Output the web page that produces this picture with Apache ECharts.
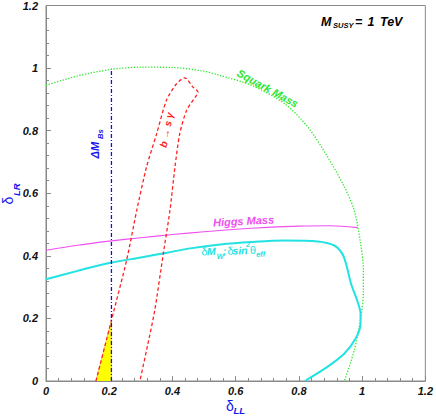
<!DOCTYPE html>
<html>
<head>
<meta charset="utf-8">
<script src="https://cdn.jsdelivr.net/npm/echarts@6/dist/echarts.min.js"></script>
<style>
  html, body { margin: 0; padding: 0; background: #fff; }
  #chart { width: 436px; height: 420px; }
</style>
</head>
<body>
<div id="chart"></div>
<script>
// axis range (delta_LL on x, delta_LR on y)
const axisMin = 0;
const axisMax = 1.2;
const axisStep = 0.2;

// squark mass bound (green dotted)
const squarkMass = [
  [0, 0.945], [0.1, 0.975], [0.2, 0.995], [0.3, 1.003], [0.4, 1.002],
  [0.5, 0.99], [0.545, 0.978], [0.65, 0.945], [0.755, 0.886], [0.828, 0.812],
  [0.891, 0.716], [0.944, 0.62], [0.975, 0.545], [0.995, 0.44], [1.004, 0.354],
  [1.004, 0.29], [0.996, 0.204], [0.975, 0.098], [0.944, 0]
];

// higgs mass bound (magenta)
const higgsMass = [
  [0, 0.418], [0.1, 0.434], [0.2, 0.447], [0.3, 0.458], [0.4, 0.468],
  [0.5, 0.477], [0.6, 0.485], [0.7, 0.491], [0.8, 0.495], [0.9, 0.496], [0.986, 0.49]
];

// dM_W / dsin^2 theta_eff bound (cyan)
const deltaMW = [
  [0, 0.325], [0.1, 0.352], [0.2, 0.377], [0.3, 0.395], [0.383, 0.41],
  [0.45, 0.423], [0.551, 0.436], [0.65, 0.444], [0.755, 0.449], [0.86, 0.446],
  [0.912, 0.433], [0.937, 0.407], [0.949, 0.375], [0.965, 0.311], [0.984, 0.258],
  [0.995, 0.215], [0.995, 0.183], [0.979, 0.135], [0.943, 0.087], [0.89, 0.045], [0.819, 0]
];

// b -> s gamma allowed band (red dashed)
const bsGamma = [
  [0.158, 0], [0.207, 0.194], [0.255, 0.386], [0.287, 0.545], [0.318, 0.684],
  [0.35, 0.79], [0.381, 0.897], [0.413, 0.95], [0.439, 0.969], [0.465, 0.939],
  [0.481, 0.923], [0.476, 0.913], [0.445, 0.865], [0.423, 0.79], [0.408, 0.684],
  [0.392, 0.545], [0.371, 0.407], [0.344, 0.226], [0.318, 0.098], [0.297, 0]
];

// Delta M_Bs bound (blue dash-dot)
const deltaMBs = [[0.207, 0], [0.207, 0.998]];

// region allowed by all constraints (yellow)
const allowedRegion = [[0.158, 0], [0.207, 0.194], [0.207, 0]];

const FONT = '"Liberation Sans", Arial, sans-serif';

// 多段文字（下标/上标）组合
function textGroup(x, y, rot, pieces) {
  return {
    type: 'group',
    x: x,
    y: y,
    rotation: rot,
    children: pieces.map(p => ({
      type: 'text',
      x: p.dx,
      y: p.dy,
      style: {
        text: p.t,
        fill: p.color,
        font: (p.plain ? 'normal normal ' : 'italic bold ') + p.size + 'px ' + FONT,
        textAlign: p.align || 'left',
        textVerticalAlign: 'middle'
      }
    }))
  };
}

const chart = echarts.init(document.getElementById('chart'), null, { renderer: 'svg' });

const axisCommon = {
  type: 'value',
  min: axisMin,
  max: axisMax,
  interval: axisStep,
  axisLine: { show: true, onZero: false, lineStyle: { color: '#8a8a8a', width: 1 } },
  axisTick: { show: true, inside: true, length: 5, lineStyle: { color: '#8a8a8a' } },
  minorTick: { show: true, splitNumber: 5, length: 3, lineStyle: { color: '#8a8a8a' } },
  splitLine: { show: false },
  axisLabel: {
    color: '#111',
    fontFamily: FONT,
    fontSize: 11,
    fontWeight: 'bold',
    fontStyle: 'italic',
    formatter: v => String(+v.toFixed(1))
  }
};

const blue = '#1515ee';
const cyan = '#22e2e2';
const red = '#ff2020';
const green = '#2ee62e';
const magenta = '#f050f0';

chart.setOption({
  animation: false,
  grid: {
    left: 46, right: 10, top: 5, bottom: 39,
    show: true, borderColor: '#8a8a8a', borderWidth: 1
  },
  xAxis: Object.assign({}, axisCommon, {
    axisLabel: Object.assign({}, axisCommon.axisLabel, { margin: 4 })
  }),
  yAxis: Object.assign({}, axisCommon, {
    axisLabel: Object.assign({}, axisCommon.axisLabel, { margin: 8 })
  }),
  series: [
    {
      type: 'line', data: allowedRegion, symbol: 'none',
      lineStyle: { width: 0.6, color: '#f0b030' },
      areaStyle: { color: '#ffff00', opacity: 1 }, z: 1
    },
    {
      type: 'line', data: squarkMass, symbol: 'none', smooth: 0.3,
      lineStyle: { color: green, width: 1.3, type: [1.3, 1.6] }, z: 2
    },
    {
      type: 'line', data: higgsMass, symbol: 'none', smooth: 0.3,
      lineStyle: { color: magenta, width: 1.1 }, z: 3
    },
    {
      type: 'line', data: deltaMW, symbol: 'none', smooth: 0.3,
      lineStyle: { color: cyan, width: 2 }, z: 3
    },
    {
      type: 'line', data: bsGamma, symbol: 'none', smooth: 0.25,
      lineStyle: { color: red, width: 1.3, type: [3.5, 2.5] }, z: 4
    },
    {
      type: 'line', data: deltaMBs, symbol: 'none',
      lineStyle: { color: '#1010e0', width: 1.3, type: [4, 2, 1, 2] }, z: 5
    }
  ],
  graphic: [
    // M_SUSY = 1 TeV
    textGroup(0, 0, 0, [
      { t: 'M', dx: 321, dy: 21.5, size: 12.5, color: '#000' },
      { t: 'SUSY', dx: 333, dy: 25.5, size: 7.5, color: '#000' },
      { t: '=', dx: 355, dy: 21.5, size: 12.5, color: '#000' },
      { t: '1', dx: 367.5, dy: 21.5, size: 12.5, color: '#000' },
      { t: 'TeV', dx: 380, dy: 21.5, size: 12.5, color: '#000' }
    ]),
    // Squark Mass
    textGroup(238, 72, -0.5, [
      { t: 'Squark Mass', dx: 0, dy: 0, size: 11, color: green }
    ]),
    // Higgs Mass
    textGroup(213, 222.5, 0.05, [
      { t: 'Higgs Mass', dx: 0, dy: 0, size: 11, color: magenta }
    ]),
    // dM_W; dsin^2 theta_eff
    textGroup(201.5, 251.5, 0.03, [
      { t: 'δ', dx: 0, dy: 0, size: 11, color: cyan, plain: true },
      { t: 'M', dx: 5.5, dy: 0, size: 10.5, color: cyan },
      { t: 'W', dx: 15, dy: 5.5, size: 7.5, color: cyan },
      { t: ';', dx: 21.5, dy: 0, size: 10.5, color: cyan },
      { t: 'δ', dx: 26, dy: 0, size: 11, color: cyan, plain: true },
      { t: 'sin', dx: 31, dy: 0, size: 10.5, color: cyan },
      { t: '2', dx: 45, dy: -6, size: 7, color: cyan },
      { t: 'θ', dx: 48.5, dy: 0, size: 11, color: cyan, plain: true },
      { t: 'eff', dx: 54.5, dy: 4.5, size: 7.5, color: cyan }
    ]),
    // b -> s gamma
    textGroup(166.5, 130, 1.37, [
      { t: 'b → s γ', dx: 0, dy: 0, size: 10, color: red, align: 'center' }
    ]),
    // Delta M_Bs
    textGroup(95, 158.5, Math.PI / 2, [
      { t: 'ΔM', dx: 0, dy: 0, size: 11, color: blue },
      { t: 'Bs', dx: 19.5, dy: 5.5, size: 7.5, color: blue }
    ]),
    // y title delta_LR
    textGroup(8, 204.5, Math.PI / 2, [
      { t: 'δ', dx: 0, dy: 0, size: 14, color: blue, plain: true },
      { t: 'LR', dx: 8.5, dy: 8.5, size: 9.5, color: blue }
    ]),
    // x title delta_LL
    textGroup(226, 405.5, 0, [
      { t: 'δ', dx: 0, dy: 0, size: 14, color: blue, plain: true },
      { t: 'LL', dx: 7.5, dy: 4.5, size: 9.5, color: blue }
    ])
  ]
});
</script>
</body>
</html>
